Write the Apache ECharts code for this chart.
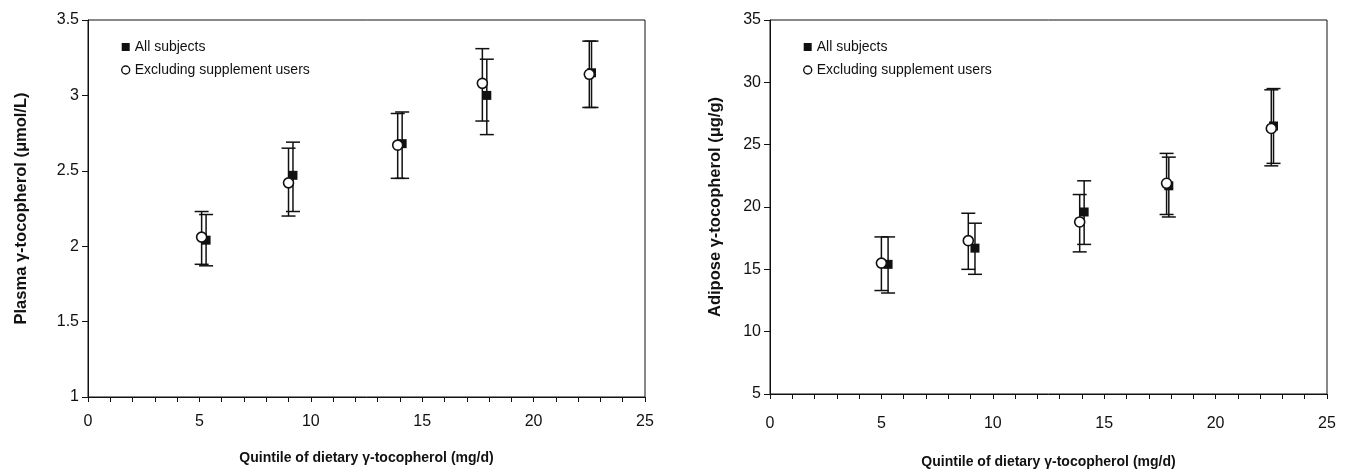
<!DOCTYPE html>
<html>
<head>
<meta charset="utf-8">
<script src="https://cdn.jsdelivr.net/npm/echarts@6/dist/echarts.min.js"></script>
<style>
html, body { margin: 0; padding: 0; background: #fff; }
#main { width: 1346px; height: 474px; }
</style>
</head>
<body>
<div id="main"></div>
<script>
// plasma (left panel)
var plasmaAllX = [5.3, 9.2, 14.1, 17.9, 22.6];
var plasmaAll = [2.04, 2.47, 2.68, 3.00, 3.15];
var plasmaAllLo = [1.87, 2.23, 2.45, 2.74, 2.92];
var plasmaAllHi = [2.21, 2.69, 2.89, 3.24, 3.36];
var plasmaExclX = [5.1, 9.0, 13.9, 17.7, 22.5];
var plasmaExcl = [2.06, 2.42, 2.67, 3.08, 3.14];
var plasmaExclLo = [1.88, 2.20, 2.45, 2.83, 2.92];
var plasmaExclHi = [2.23, 2.65, 2.88, 3.31, 3.36];

// adipose (right panel)
var adiposeAllX = [5.3, 9.2, 14.1, 17.9, 22.6];
var adiposeAll = [15.4, 16.7, 19.6, 21.7, 26.5];
var adiposeAllLo = [13.1, 14.6, 17.0, 19.2, 23.5];
var adiposeAllHi = [17.6, 18.7, 22.1, 24.0, 29.5];
var adiposeExclX = [5.0, 8.9, 13.9, 17.8, 22.5];
var adiposeExcl = [15.5, 17.3, 18.8, 21.9, 26.3];
var adiposeExclLo = [13.3, 15.0, 16.4, 19.4, 23.3];
var adiposeExclHi = [17.6, 19.5, 21.0, 24.3, 29.4];

var legendNames = ["All subjects", "Excluding supplement users"];
var xTitle = "Quintile of dietary γ-tocopherol (mg/d)";
var FONT = "Liberation Sans, Arial, sans-serif";

var myChart = echarts.init(document.getElementById("main"), null, { renderer: "canvas" });

function pairs(xs, ys) {
	return xs.map(function (x, i) { return [x, ys[i]]; });
}
function triples(xs, lo, hi) {
	return xs.map(function (x, i) { return [x, lo[i], hi[i]]; });
}

var errCount = 0;
function errBar(idx, data) {
	errCount++;
	return {
		type: "custom",
		name: "err" + errCount,
		xAxisIndex: idx,
		yAxisIndex: idx,
		z: 2,
		silent: true,
		encode: { x: 0, y: [1, 2] },
		data: data,
		renderItem: function (params, api) {
			var x = api.value(0);
			var lo = api.coord([x, api.value(1)]);
			var hi = api.coord([x, api.value(2)]);
			var w = 7;
			var st = { stroke: "#111", lineWidth: 1.5 };
			return {
				type: "group",
				children: [
					{ type: "line", shape: { x1: lo[0], y1: lo[1], x2: hi[0], y2: hi[1] }, style: st },
					{ type: "line", shape: { x1: lo[0] - w, y1: lo[1], x2: lo[0] + w, y2: lo[1] }, style: st },
					{ type: "line", shape: { x1: hi[0] - w, y1: hi[1], x2: hi[0] + w, y2: hi[1] }, style: st }
				]
			};
		}
	};
}

function xAx(idx, labelGap, titleGap) {
	return {
		type: "value",
		gridIndex: idx,
		min: 0,
		max: 25,
		interval: 1,
		name: xTitle,
		nameLocation: "middle",
		nameGap: titleGap,
		nameTextStyle: { fontFamily: FONT, fontSize: 14, fontWeight: "bold", color: "#111" },
		axisLine: { lineStyle: { color: "#111", width: 1 } },
		axisTick: { inside: false, length: 5, lineStyle: { color: "#111" } },
		splitLine: { show: false },
		axisLabel: {
			fontFamily: FONT, fontSize: 16, color: "#111", margin: labelGap,
			formatter: function (v) { return v % 5 == 0 ? String(v) : ""; }
		}
	};
}

function yAx(idx, min, max, step, name, gap) {
	return {
		type: "value",
		gridIndex: idx,
		min: min,
		max: max,
		interval: step,
		name: name,
		nameLocation: "middle",
		nameRotate: 90,
		nameGap: gap,
		nameTextStyle: { fontFamily: FONT, fontSize: 16.5, fontWeight: "bold", color: "#111" },
		axisLine: { lineStyle: { color: "#111", width: 1 } },
		axisTick: { inside: false, length: 6, lineStyle: { color: "#111" } },
		splitLine: { show: false },
		axisLabel: { fontFamily: FONT, fontSize: 16, color: "#111", margin: 9 }
	};
}

function points(idx, name, data, filled) {
	return {
		type: "scatter",
		name: name,
		xAxisIndex: idx,
		yAxisIndex: idx,
		z: 3,
		symbol: filled ? "rect" : "circle",
		symbolSize: filled ? 9 : 10,
		itemStyle: filled
			? { color: "#111", borderColor: "#111", borderWidth: 0, opacity: 1 }
			: { color: "#fff", borderColor: "#111", borderWidth: 1.6, opacity: 1 },
		data: data
	};
}

function legendAt(left) {
	return {
		orient: "vertical",
		left: left,
		top: 35,
		itemWidth: 8,
		itemHeight: 8,
		itemGap: 9,
		selectedMode: false,
		textStyle: { fontFamily: FONT, fontSize: 14, color: "#111" },
		data: [
			{ name: legendNames[0], icon: "rect", itemStyle: { color: "#111", borderWidth: 0 } },
			{ name: legendNames[1], icon: "circle", itemStyle: { color: "#fff", borderColor: "#111", borderWidth: 1.4 } }
		]
	};
}

var option = {
	animation: false,
	backgroundColor: "#fff",
	legend: [legendAt(116), legendAt(798)],
	grid: [
		{ left: 88, right: 701, top: 20, bottom: 77, show: true, borderColor: "#111", borderWidth: 1 },
		{ left: 770, right: 19, top: 20, bottom: 76, show: true, borderColor: "#111", borderWidth: 1 }
	],
	xAxis: [xAx(0, 17, 54), xAx(1, 22, 61)],
	yAxis: [
		yAx(0, 1, 3.5, 0.5, "Plasma γ-tocopherol (μmol/L)", 58),
		yAx(1, 5, 35, 5, "Adipose γ-tocopherol (μg/g)", 46)
	],
	series: [
		errBar(0, triples(plasmaAllX, plasmaAllLo, plasmaAllHi)),
		errBar(0, triples(plasmaExclX, plasmaExclLo, plasmaExclHi)),
		points(0, legendNames[0], pairs(plasmaAllX, plasmaAll), true),
		points(0, legendNames[1], pairs(plasmaExclX, plasmaExcl), false),
		errBar(1, triples(adiposeAllX, adiposeAllLo, adiposeAllHi)),
		errBar(1, triples(adiposeExclX, adiposeExclLo, adiposeExclHi)),
		points(1, legendNames[0], pairs(adiposeAllX, adiposeAll), true),
		points(1, legendNames[1], pairs(adiposeExclX, adiposeExcl), false)
	]
};
myChart.setOption(option);
</script>
</body>
</html>
